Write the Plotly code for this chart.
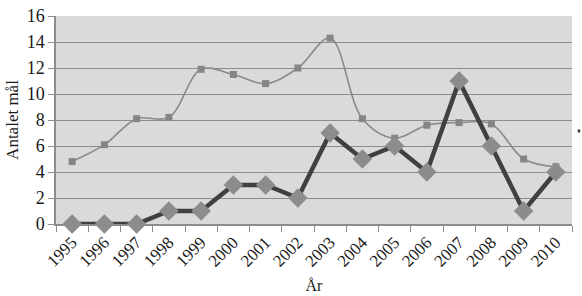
import plotly.graph_objects as go

years = [str(y) for y in range(1995, 2011)]
series_gray = [4.8, 6.1, 8.1, 8.2, 11.9, 11.5, 10.8, 12.0, 14.3, 8.1, 6.6, 7.6, 7.8, 7.7, 5.0, 4.4]
series_dark = [0, 0, 0, 1, 1, 3, 3, 2, 7, 5, 6, 4, 11, 6, 1, 4]
y_ticks = [0, 2, 4, 6, 8, 10, 12, 14, 16]

fig = go.Figure()
fig.add_trace(go.Scatter(
    x=years, y=series_gray, mode="lines+markers",
    line=dict(color="#8a8a8a", width=1.6, shape="spline", smoothing=1),
    marker=dict(symbol="square", size=7, color="#858585"),
    cliponaxis=False, showlegend=False))
fig.add_trace(go.Scatter(
    x=years, y=series_dark, mode="lines+markers",
    line=dict(color="#404040", width=4.5),
    marker=dict(symbol="diamond", size=15, color="#8c8c8c"),
    cliponaxis=False, showlegend=False))

font = "Liberation Serif"
fig.update_layout(
    width=582, height=296,
    margin=dict(l=56, r=10, t=16, b=72),
    paper_bgcolor="white", plot_bgcolor="#dadada",
    font=dict(family=font, color="#1a1a1a"),
    xaxis=dict(
        type="category", tickson="boundaries", ticks="outside", ticklen=6,
        tickcolor="#8c8c8c", tickangle=-45, tickfont=dict(size=17, family=font),
        showline=True, linecolor="#8c8c8c", linewidth=1.5, showgrid=False,
        automargin=False,
        title=dict(text="År", font=dict(size=16, family=font), standoff=10),
        range=[-0.5, 15.5]),
    yaxis=dict(
        range=[0, 16], tickvals=y_ticks, ticks="outside", ticklen=6,
        tickcolor="#8c8c8c", tickfont=dict(size=18, family=font),
        showline=True, linecolor="#8c8c8c", linewidth=1.5,
        gridcolor="#8c8c8c", gridwidth=1.2, zeroline=False, automargin=False,
        title=dict(text="Antalet mål", font=dict(size=17, family=font), standoff=4)),
)
fig.add_shape(type="rect", xref="paper", yref="paper", x0=1.011, x1=1.016, y0=0.44, y1=0.455,
              fillcolor="#404040", line_width=0)
fig.write_html("out.html")
